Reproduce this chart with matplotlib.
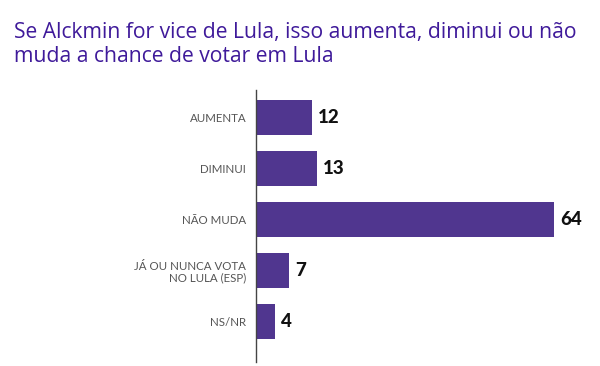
import matplotlib
matplotlib.use("Agg")
import matplotlib.pyplot as plt

categories = ["AUMENTA", "DIMINUI", "NÃO MUDA", "JÁ OU NUNCA VOTA\nNO LULA (ESP)", "NS/NR"]
values = [12, 13, 64, 7, 4]
title = "Se Alckmin for vice de Lula, isso aumenta, diminui ou não\nmuda a chance de votar em Lula"

plt.rcParams['font.family'] = ['Lato', 'DejaVu Sans']

fig = plt.figure(figsize=(6, 3.66), dpi=100)
ax = fig.add_axes([256/600, 1 - 362/366, 344/600, (362 - 90)/366])

bar_color = "#50368f"
ys = list(range(len(categories)))
ax.barh(ys, values, height=0.69, color=bar_color)
ax.set_xlim(0, 344/4.656)
ax.set_ylim(4.794, -0.539)

for y, v in zip(ys, values):
    ax.text(v + 1.4, y, str(v), va="center", ha="left", fontsize=13.5, fontweight="black", color="#111111")

ax.set_yticks(ys)
ax.set_yticklabels(categories, fontsize=8.3, color="#555555", linespacing=1.1)
for lab in ax.get_yticklabels():
    lab.set_horizontalalignment("right")
ax.tick_params(axis="y", length=0, pad=7)
ax.set_xticks([])
for s in ["top", "right", "bottom"]:
    ax.spines[s].set_visible(False)
ax.spines["left"].set_color("#444444")
ax.spines["left"].set_linewidth(1.0)

fig.text(14/600, 1 - 22/366, title, ha="left", va="top", fontsize=15.2, color="#3f1a9a",
         linespacing=1.2, family=["Open Sans", "DejaVu Sans"])

fig.savefig("out.png", dpi=100)
